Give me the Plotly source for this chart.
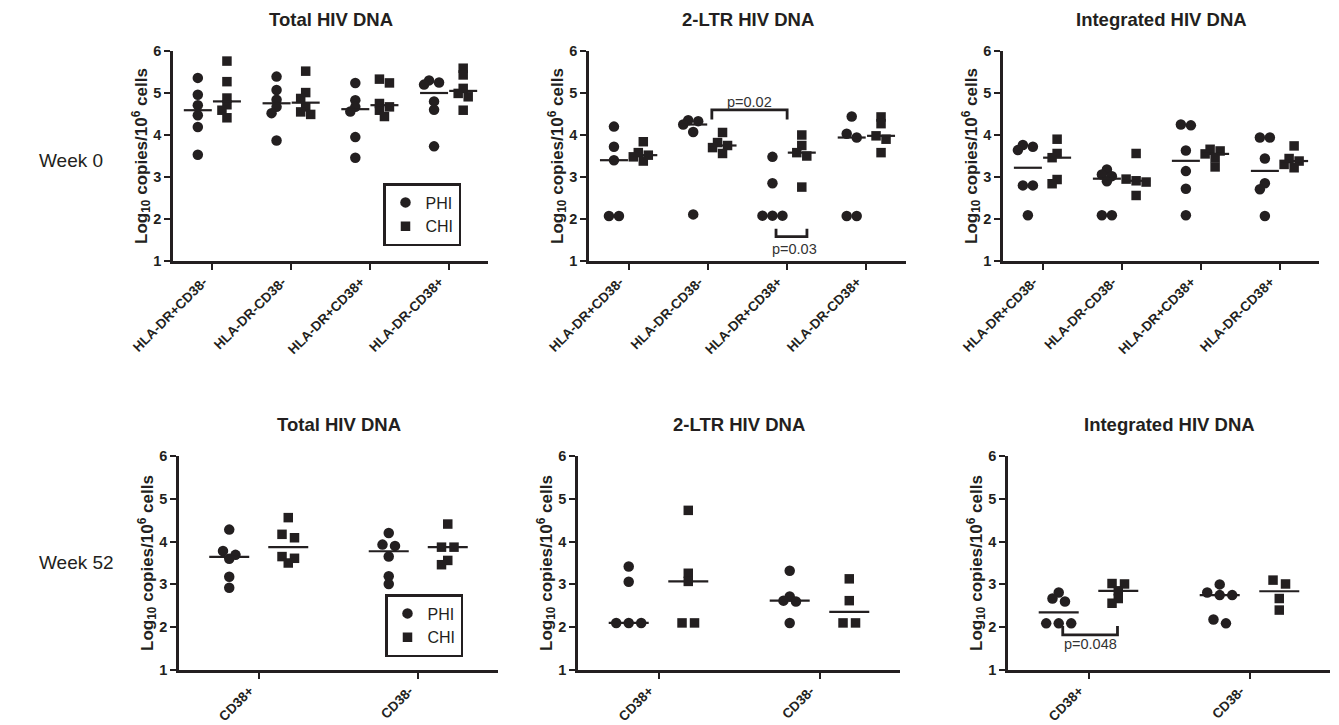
import plotly.graph_objects as go
import numpy as np

# ---------------- data ----------------
categories_w0 = ["HLA-DR+CD38-", "HLA-DR-CD38-", "HLA-DR+CD38+", "HLA-DR-CD38+"]
categories_w52 = ["CD38+", "CD38-"]
groups = ["PHI", "CHI"]

total_w0_phi = [[5.36, 4.96, 4.71, 4.47, 4.19, 3.53], [5.39, 5.07, 4.84, 4.67, 4.52, 3.87],
                [5.24, 4.83, 4.67, 4.56, 3.95, 3.46], [5.30, 5.25, 5.20, 4.80, 4.60, 3.73]]
total_w0_chi = [[5.76, 5.27, 4.88, 4.72, 4.59, 4.41], [5.52, 5.01, 4.87, 4.67, 4.55, 4.49],
                [5.33, 5.24, 4.75, 4.67, 4.59, 4.44], [5.59, 5.43, 5.11, 4.99, 4.91, 4.59]]
ltr_w0_phi = [[4.20, 3.72, 3.40, 2.07, 2.07], [4.35, 4.33, 4.25, 4.07, 2.11],
              [3.48, 2.85, 2.08, 2.08, 2.08], [4.44, 4.03, 3.94, 2.07, 2.07]]
ltr_w0_chi = [[3.84, 3.58, 3.52, 3.48, 3.38], [4.06, 3.82, 3.75, 3.70, 3.56],
              [4.00, 3.75, 3.58, 3.50, 2.76], [4.43, 4.27, 3.98, 3.90, 3.58]]
int_w0_phi = [[3.76, 3.72, 3.64, 2.80, 2.80, 2.09], [3.18, 3.06, 3.02, 2.90, 2.09, 2.09],
              [4.25, 4.23, 3.63, 3.14, 2.72, 2.09], [3.94, 3.94, 3.44, 2.85, 2.71, 2.07]]
int_w0_chi = [[3.90, 3.56, 3.46, 2.94, 2.84], [3.56, 2.95, 2.91, 2.88, 2.56],
              [3.66, 3.62, 3.55, 3.46, 3.24], [3.74, 3.44, 3.38, 3.30, 3.22]]

total_w52_phi = [[4.28, 3.78, 3.69, 3.60, 3.18, 2.92], [4.20, 3.93, 3.90, 3.65, 3.19, 3.01]]
total_w52_chi = [[4.56, 4.17, 4.09, 3.65, 3.61, 3.50], [4.41, 3.87, 3.87, 3.56, 3.46]]
ltr_w52_phi = [[3.42, 3.06, 2.10, 2.10, 2.10], [3.32, 2.72, 2.62, 2.60, 2.10]]
ltr_w52_chi = [[4.73, 3.26, 3.07, 2.10, 2.10], [3.13, 2.62, 2.10, 2.10]]
int_w52_phi = [[2.81, 2.67, 2.60, 2.09, 2.09, 2.09], [3.00, 2.81, 2.75, 2.75, 2.18, 2.09]]
int_w52_chi = [[3.02, 3.01, 2.85, 2.67, 2.56], [3.10, 3.01, 2.67, 2.40]]

titles = ["Total HIV DNA", "2-LTR HIV DNA", "Integrated HIV DNA"]
row_labels = ["Week 0", "Week 52"]
y_ticks = [1, 2, 3, 4, 5, 6]
y_title = "Log<sub>10</sub> copies/10<sup>6</sup> cells"
sig_labels = ["p=0.02", "p=0.03", "p=0.048"]

# ---------------- layout helpers ----------------
W, H = 1339, 725
INK = "#231f20"
FONT = "Liberation Sans, Arial, sans-serif"


def px_dom_x(a, b):
    return [a / W, b / W]


def px_dom_y(top, bottom):
    return [1 - bottom / H, 1 - top / H]


panels = [
    dict(title=titles[0], cats=categories_w0, phi=total_w0_phi, chi=total_w0_chi,
         dx=px_dom_x(173, 488), dy=px_dom_y(51, 261), step=10, half=14),
    dict(title=titles[1], cats=categories_w0, phi=ltr_w0_phi, chi=ltr_w0_chi,
         dx=px_dom_x(589, 906), dy=px_dom_y(51, 261), step=10, half=14),
    dict(title=titles[2], cats=categories_w0, phi=int_w0_phi, chi=int_w0_chi,
         dx=px_dom_x(1003, 1319), dy=px_dom_y(51, 261), step=10, half=14),
    dict(title=titles[0], cats=categories_w52, phi=total_w52_phi, chi=total_w52_chi,
         dx=px_dom_x(179, 498), dy=px_dom_y(456, 670), step=12.5, half=20),
    dict(title=titles[1], cats=categories_w52, phi=ltr_w52_phi, chi=ltr_w52_chi,
         dx=px_dom_x(578, 900), dy=px_dom_y(456, 670), step=12.5, half=20),
    dict(title=titles[2], cats=categories_w52, phi=int_w52_phi, chi=int_w52_chi,
         dx=px_dom_x(1008, 1330), dy=px_dom_y(456, 670), step=12.5, half=20),
]

GROUP_OFF = 0.185
DIAM = 10


def swarm(vals, ppx, ppy, step, diam=DIAM):
    """Greedy block beeswarm: returns x offsets (data units) for each value."""
    n = len(vals)
    idx = sorted(range(n), key=lambda i: -vals[i])
    blocks = []
    for i in idx:
        if blocks and (vals[blocks[-1][0]] - vals[i]) * ppy < 0.4 * diam:
            blocks[-1].append(i)
        else:
            blocks.append([i])
    placed = []
    off = [0.0] * n
    shifts = [0]
    for k in range(1, 10):
        shifts += [-k * step / 2, k * step / 2]
    for b in blocks:
        k = len(b)
        base = [(j - (k - 1) / 2) * step for j in range(k)]
        chosen = 0
        for s in shifts:
            ok = True
            for j in range(k):
                for (px, py) in placed:
                    if (base[j] + s - px) ** 2 + (vals[b[j]] * ppy - py) ** 2 < (0.65 * diam) ** 2:
                        ok = False
                        break
                if not ok:
                    break
            if ok:
                chosen = s
                break
        for j in range(k):
            off[b[j]] = (base[j] + chosen) / ppx
            placed.append((base[j] + chosen, vals[b[j]] * ppy))
    return off


fig = go.Figure()
layout = {}

for p_i, p in enumerate(panels):
    n = len(p["cats"])
    sfx = "" if p_i == 0 else str(p_i + 1)
    xa, ya = "x" + sfx, "y" + sfx
    ppx = (p["dx"][1] - p["dx"][0]) * W / n
    ppy = (p["dy"][1] - p["dy"][0]) * H / 5.0
    for g_i, (gname, series) in enumerate(zip(groups, [p["phi"], p["chi"]])):
        goff = -GROUP_OFF if g_i == 0 else GROUP_OFF
        xs, ys, mx, my = [], [], [], []
        for c, vals in enumerate(series):
            offs = swarm(vals, ppx, ppy, p["step"])
            xs += [c + goff + o for o in offs]
            ys += list(vals)
            med = float(np.median(vals))
            hw = p["half"] / ppx
            mx += [c + goff - hw, c + goff + hw, None]
            my += [med, med, None]
        show = p_i in (0, 3)
        legend_name = "legend2" if p_i == 3 else "legend"
        fig.add_trace(go.Scatter(
            x=xs, y=ys, mode="markers", name=gname, xaxis=xa, yaxis=ya,
            marker=dict(symbol="circle" if g_i == 0 else "square",
                        size=10.5 if g_i == 0 else 9.5, color=INK, line=dict(width=0)),
            showlegend=show, legend=legend_name,
            cliponaxis=False, hoverinfo="x+y"))
        fig.add_trace(go.Scatter(
            x=mx, y=my, mode="lines", line=dict(color=INK, width=2.2),
            xaxis=xa, yaxis=ya, showlegend=False, hoverinfo="skip"))

    axis_common = dict(showline=True, linecolor=INK, linewidth=2.5, ticks="outside",
                       ticklen=6, tickwidth=2, tickcolor=INK, showgrid=False, zeroline=False,
                       automargin=False)
    layout["xaxis" + sfx] = dict(axis_common, domain=p["dx"], anchor=ya,
                                 range=[-0.5, n - 0.5], tickvals=list(range(n)),
                                 ticktext=p["cats"], tickangle=-45, ticklabelshift=-9,
                                 ticklabelstandoff=-1,
                                 tickfont=dict(family=FONT, size=13.5, color=INK, weight="bold"))
    layout["yaxis" + sfx] = dict(axis_common, domain=p["dy"], anchor=xa, range=[1, 6],
                                 tickvals=y_ticks,
                                 tickfont=dict(family=FONT, size=14.5, color=INK, weight="bold"),
                                 title=dict(text=y_title, standoff=2,
                                            font=dict(family=FONT, size=17, color=INK, weight="bold")))

fig.update_layout(**layout)

annotations = []
for p in panels:
    annotations.append(dict(text=p["title"], x=(p["dx"][0] + p["dx"][1]) / 2,
                            y=p["dy"][1] + 32 / H, xref="paper", yref="paper",
                            showarrow=False, xanchor="center", yanchor="middle",
                            font=dict(family=FONT, size=18.5, color=INK, weight="bold")))
annotations.append(dict(text=row_labels[0], x=37 / W, y=1 - 160 / H, xref="paper", yref="paper",
                        showarrow=False, xanchor="left", yanchor="middle",
                        font=dict(family=FONT, size=19, color=INK)))
annotations.append(dict(text=row_labels[1], x=37 / W, y=1 - 562 / H, xref="paper", yref="paper",
                        showarrow=False, xanchor="left", yanchor="middle",
                        font=dict(family=FONT, size=19, color=INK)))

# significance brackets
shapes = []
brackets = [
    # (axis suffix, x0, x1, bar level, leg end, label, label x, label y)
    ("2", 1.05, 2.0, 4.60, 4.37, sig_labels[0], 1.53, 4.78),
    ("2", 2 - 0.14, 2 + 0.25, 1.58, 1.77, sig_labels[1], 2.09, 1.29),
    ("6", -0.16, 0.18, 1.82, 2.03, sig_labels[2], 0.01, 1.61),
]
for sfx, x0, x1, lvl, leg, lab, lx, ly in brackets:
    shapes.append(dict(type="path", xref="x" + sfx, yref="y" + sfx,
                       path=f"M {x0},{leg} L {x0},{lvl} L {x1},{lvl} L {x1},{leg}",
                       line=dict(color=INK, width=2.8)))
    annotations.append(dict(text=lab, x=lx, y=ly, xref="x" + sfx, yref="y" + sfx,
                            showarrow=False, xanchor="center", yanchor="middle",
                            font=dict(family=FONT, size=14.5, color="#333333")))

legend_common = dict(xanchor="left", yanchor="top", bgcolor="white", bordercolor=INK,
                     borderwidth=2.5, font=dict(family=FONT, size=16, color=INK),
                     itemsizing="trace", tracegroupgap=0)

fig.update_layout(
    width=W, height=H, margin=dict(l=0, r=0, t=0, b=0, autoexpand=False),
    paper_bgcolor="white", plot_bgcolor="white",
    annotations=annotations, shapes=shapes,
    legend=dict(legend_common, x=383 / W, y=1 - 183 / H),
    legend2=dict(legend_common, x=385 / W, y=1 - 594 / H),
    hovermode="closest",
)

fig.write_html("out.html")
